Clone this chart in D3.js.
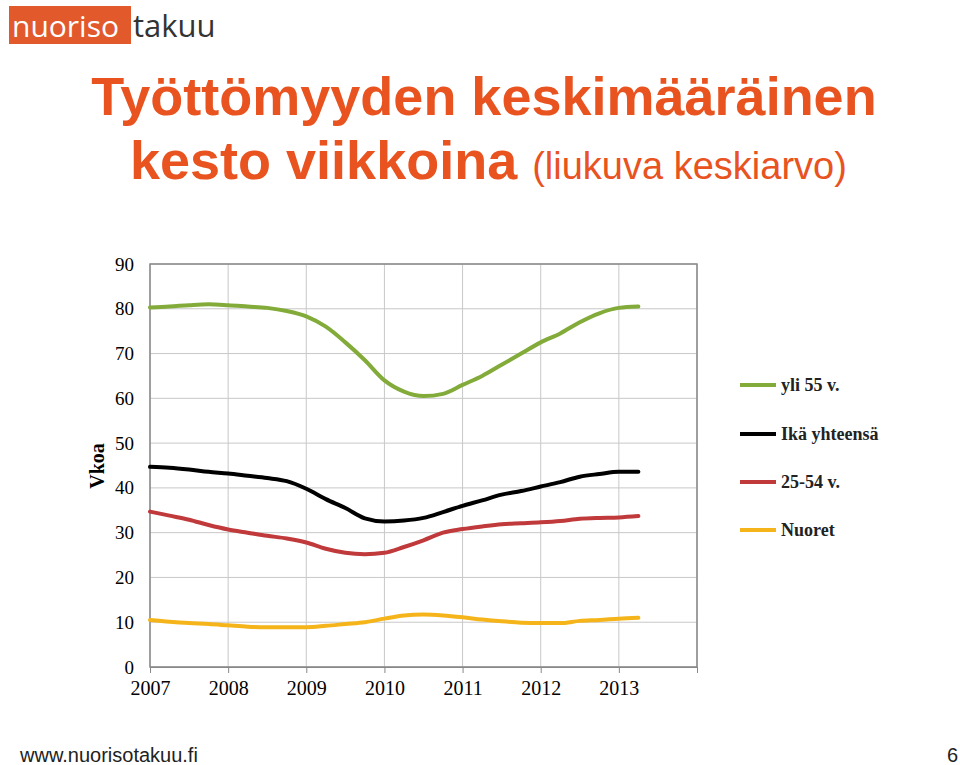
<!DOCTYPE html>
<html><head><meta charset="utf-8">
<script src="https://cdn.jsdelivr.net/npm/d3@7"></script>
<style>body{margin:0;background:#fff}</style>
</head><body>
<svg id="chart" width="960" height="765"></svg>
<script>
// quarterly points 2007.0 .. 2013.25
var years = [2007,2008,2009,2010,2011,2012,2013];
var yTicks = [0,10,20,30,40,50,60,70,80,90];
var yli55 = [80.3,80.5,80.8,81,80.8,80.5,80.2,79.5,78.3,76,72.5,68.5,64,61.5,60.5,61,63,65,67.5,70,72.5,74.5,77,79,80.2,80.5];
var kaikki = [44.7,44.5,44.1,43.6,43.2,42.7,42.2,41.5,39.8,37.5,35.5,33.2,32.5,32.7,33.3,34.6,36,37.2,38.5,39.3,40.3,41.3,42.5,43.1,43.6,43.6];
var keski = [34.7,33.8,32.9,31.7,30.7,30.0,29.3,28.7,27.8,26.4,25.5,25.2,25.5,26.8,28.3,30.0,30.8,31.4,31.9,32.1,32.3,32.6,33.1,33.3,33.4,33.7];
var nuoret = [10.5,10.1,9.8,9.6,9.3,9.0,8.9,8.9,8.9,9.2,9.6,10.0,10.8,11.5,11.7,11.5,11.1,10.6,10.2,9.9,9.8,9.8,10.3,10.5,10.8,11.0];
var series = [
  {name:"yli 55 v.", values:yli55, color:"#82ab3a"},
  {name:"Ikä yhteensä", values:kaikki, color:"#000000"},
  {name:"25-54 v.", values:keski, color:"#c0393b"},
  {name:"Nuoret", values:nuoret, color:"#f5b51a"}
];

var svg = d3.select("#chart");

// logo
svg.append("rect").attr("x",9).attr("y",6).attr("width",122).attr("height",38).attr("fill","#e2592c");
svg.append("text").attr("x",12).attr("y",37).attr("font-family","Open Sans, sans-serif").attr("font-size",30).attr("fill","#fff").text("nuoriso");
svg.append("text").attr("x",133).attr("y",37).attr("font-family","Open Sans, sans-serif").attr("font-size",31).attr("fill","#333").text("takuu");

// title
svg.append("text").attr("x",484).attr("y",115).attr("text-anchor","middle")
  .attr("font-family","Liberation Sans, Arial, sans-serif").attr("font-weight","bold").attr("font-size",54)
  .attr("fill","#e8531f").text("Työttömyyden keskimääräinen");
var t2 = svg.append("text").attr("x",130).attr("y",179)
  .attr("font-family","Liberation Sans, Arial, sans-serif").attr("fill","#e8531f");
t2.append("tspan").attr("font-weight","bold").attr("font-size",54).text("kesto viikkoina ");
t2.append("tspan").attr("font-size",38).text("(liukuva keskiarvo)");

// chart
var x = d3.scaleLinear().domain([2007,2014]).range([150,697]);
var y = d3.scaleLinear().domain([0,90]).range([667,264]);

var grid = svg.append("g").attr("stroke","#c8c8c8").attr("stroke-width",1);
yTicks.forEach(function(v){
  grid.append("line").attr("x1",150).attr("x2",697).attr("y1",y(v)).attr("y2",y(v));
});
years.concat([2014]).forEach(function(v){
  grid.append("line").attr("x1",x(v)).attr("x2",x(v)).attr("y1",264).attr("y2",667);
});
svg.append("rect").attr("x",150).attr("y",264).attr("width",547).attr("height",403)
  .attr("fill","none").attr("stroke","#888").attr("stroke-width",1.5);

var xAxis = svg.append("g").attr("transform","translate(0,667)")
  .call(d3.axisBottom(x).tickValues(years.concat([2014])).tickSize(6).tickFormat(function(d){return d==2014?"":d;}));
xAxis.select(".domain").attr("stroke","#888");
xAxis.selectAll("line").attr("stroke","#888");
xAxis.selectAll("text").attr("font-family","Liberation Serif, serif").attr("font-size",20).attr("fill","#000").attr("dy","0.95em");

var yAxis = svg.append("g").attr("transform","translate(150,0)")
  .call(d3.axisLeft(y).tickValues(yTicks).tickSize(0).tickPadding(16));
yAxis.select(".domain").remove();
yAxis.selectAll("text").attr("font-family","Liberation Serif, serif").attr("font-size",19).attr("fill","#000");

svg.append("text").attr("transform","translate(104,466) rotate(-90)").attr("text-anchor","middle")
  .attr("font-family","Liberation Serif, serif").attr("font-weight","bold").attr("font-size",20).text("Vkoa");

var line = d3.line().x(function(d,i){return x(2007+i*0.25);}).y(function(d){return y(d);}).curve(d3.curveMonotoneX);
series.forEach(function(s){
  svg.append("path").attr("d",line(s.values)).attr("fill","none").attr("stroke",s.color).attr("stroke-width",4).attr("stroke-linecap","round");
});

// legend
var legY = [385,434,482,530];
series.forEach(function(s,i){
  svg.append("line").attr("x1",740).attr("x2",776).attr("y1",legY[i]).attr("y2",legY[i]).attr("stroke",s.color).attr("stroke-width",4);
  svg.append("text").attr("x",781).attr("y",legY[i]+6).attr("font-family","Liberation Serif, serif").attr("font-weight","bold")
    .attr("font-size",18).attr("fill","#222").text(s.name);
});

// footer
svg.append("text").attr("x",20).attr("y",762).attr("font-family","Liberation Sans, Arial, sans-serif").attr("font-size",20).attr("fill","#222").text("www.nuorisotakuu.fi");
svg.append("text").attr("x",958).attr("y",762).attr("text-anchor","end").attr("font-family","Liberation Sans, Arial, sans-serif").attr("font-size",20).attr("fill","#222").text("6");
</script>
</body></html>
